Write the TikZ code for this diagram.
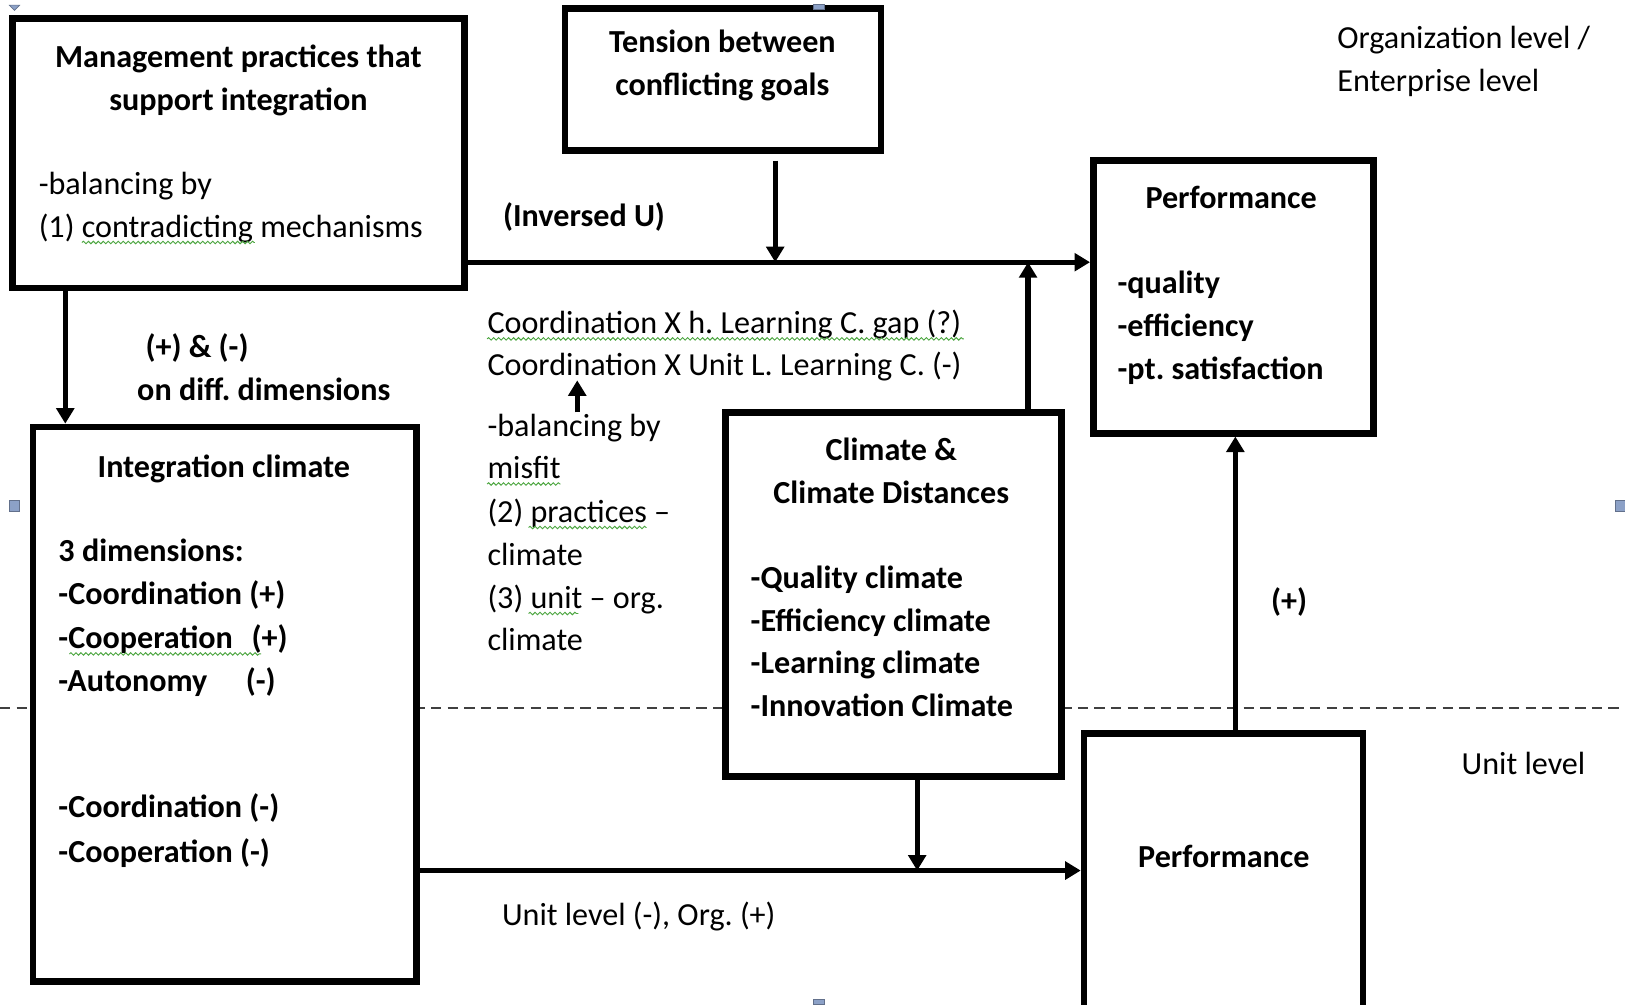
\documentclass[tikz,border=0pt]{standalone}
\usepackage{fontspec}
\setmainfont{Carlito}
\usetikzlibrary{arrows.meta,fit,decorations.pathmorphing}
\definecolor{handleblue}{rgb}{0.55,0.63,0.78}
\definecolor{spellgreen}{rgb}{0.30,0.65,0.25}
\frenchspacing
\begin{document}
\begin{tikzpicture}[x=0.5pt,y=-0.5pt,
  box/.style={draw,line width=3.2pt,fill=white,inner sep=0pt},
  conn/.style={line width=2.5pt,-{Triangle[length=7.5pt,width=8.5pt]}},
  txt/.style={anchor=base west,inner sep=0pt,yshift=-1pt,font=\fontsize{15.5}{18}\selectfont},
  btxt/.style={anchor=base west,inner sep=0pt,yshift=-1pt,font=\fontsize{15.5}{18}\selectfont\bfseries},
  ctxt/.style={anchor=base,inner sep=0pt,yshift=-1pt,font=\fontsize{15.5}{18}\selectfont\bfseries},
  squig/.style={draw=spellgreen,line width=0.45pt,decorate,decoration={snake,amplitude=0.6pt,segment length=2.4pt}},
  handle/.style={fill=handleblue,draw=handleblue!70!black,line width=0.3pt}
]
\useasboundingbox (0,0) rectangle (1568,969);
\clip (0,0) rectangle (1568,969);

% level separator
\draw[dashed,dash pattern=on 5pt off 3pt,line width=0.7pt,black!75] (0,683) -- (1568,683);

% boxes
\node[box,fit={(12,18)(448,278)}] (mgmt) {};
\node[box,fit={(545,8)(850,145)}] (tension) {};
\node[box,fit={(1055,155)(1325,418)}] (perfo) {};
\node[box,fit={(32,412)(402,947)}] (integ) {};
\node[box,fit={(700,398)(1024,749)}] (clim) {};
\node[box,fit={(1046,708)(1315,990)}] (perfu) {};

% helper points
\coordinate (orgline) at (0,253);
\coordinate (unitline) at (0,840);
\coordinate (tensfoot) at (748,155);
\coordinate (balfoot) at (557,398);
\coordinate (baltip) at (557,367);

% connectors
\draw[conn] (mgmt.east |- orgline) -- (perfo.west |- orgline);
\draw[conn] (tensfoot) -- (tensfoot |- orgline);
\draw[conn] (clim.north -| 992,0) -- (992,0 |- orgline);
\draw[conn] (mgmt.south -| 63,0) -- (integ.north -| 63,0);
\draw[conn] (integ.east |- unitline) -- (perfu.west |- unitline);
\draw[conn] (clim.south -| 885,0) -- (885,0 |- unitline);
\draw[conn] (perfu.north -| 1192,0) -- (perfo.south -| 1192,0);
\draw[conn] (balfoot) -- (baltip);

% management practices
\node[ctxt] (m1) at (230,63) {Management practices that};
\node[ctxt] (m2) at (230,105) {support integration};
\node[txt] (m3) at (37,186) {-balancing by};
\node[txt] (m4) at (37,227) {(1) contradicting mechanisms};
\draw[squig] (79,234) -- (246,234);

% tension
\node[ctxt] (t1) at (697,49) {Tension between};
\node[ctxt] (t2) at (697,90) {conflicting goals};

% level labels
\node[txt] (lv1) at (1290,45) {Organization level /};
\node[txt] (lv2) at (1290,86) {Enterprise level};
\node[txt] (lv3) at (1410,745) {Unit level};

% organisation performance
\node[ctxt] (p1) at (1188,199) {Performance};
\node[btxt] (p2) at (1078,281) {-quality};
\node[btxt] (p3) at (1078,323) {-efficiency};
\node[btxt] (p4) at (1078,364) {-pt. satisfaction};

% connector labels
\node[btxt] (inv) at (485,217) {(Inversed U)};
\node[btxt] (pm1) at (140,343) {(+) \& (-)};
\node[btxt] (pm2) at (132,384) {on diff. dimensions};
\node[txt] (ul) at (484,891) {Unit level (-), Org. (+)};
\node[btxt] (plus) at (1226,588) {(+)};

% interaction notes
\node[txt] (c1) at (470,320) {Coordination X h. Learning C. gap (?)};
\node[txt] (c2) at (470,360) {Coordination X Unit L. Learning C. (-)};
\draw[squig] (470,327) -- (930,327);
\node[txt] (b1) at (470,419) {-balancing by};
\node[txt] (b2) at (470,460) {misfit};
\node[txt] (b3) at (470,502) {(2) practices --};
\node[txt] (b4) at (470,544) {climate};
\node[txt] (b5) at (470,585) {(3) unit -- org.};
\node[txt] (b6) at (470,626) {climate};
\draw[squig] (470,467) -- (541,467);
\draw[squig] (510,509) -- (624,509);
\draw[squig] (510,592) -- (558,592);

% integration climate
\node[ctxt] (i1) at (216,459) {Integration climate};
\node[btxt] (i2) at (56,540) {3 dimensions:};
\node[btxt] (i3) at (56,581) {-Coordination (+)};
\node[btxt] (i4) at (56,624) {-Cooperation\hspace{5.5pt} (+)};
\node[btxt] (i5) at (56,665) {-Autonomy\hspace{15pt} (-)};
\node[btxt] (i6) at (56,787) {-Coordination (-)};
\node[btxt] (i7) at (56,830) {-Cooperation (-)};
\draw[squig] (67,631) -- (252,631);

% climate
\node[ctxt] (k1) at (860,442) {Climate \&};
\node[ctxt] (k2) at (860,484) {Climate Distances};
\node[btxt] (k3) at (724,566) {-Quality climate};
\node[btxt] (k4) at (724,607) {-Efficiency climate};
\node[btxt] (k5) at (724,648) {-Learning climate};
\node[btxt] (k6) at (724,689) {-Innovation Climate};

% unit performance
\node[ctxt] (u1) at (1181,835) {Performance};

% frame handles
\fill[handle] (9,483) rectangle (19,493);
\fill[handle] (1559,483) rectangle (1568,493);
\fill[handle] (785,4) rectangle (795,9);
\fill[handle] (785,964) rectangle (795,969);
\fill[handle] (9,5) -- (19,5) -- (14,10) -- cycle;
\end{tikzpicture}
\end{document}
